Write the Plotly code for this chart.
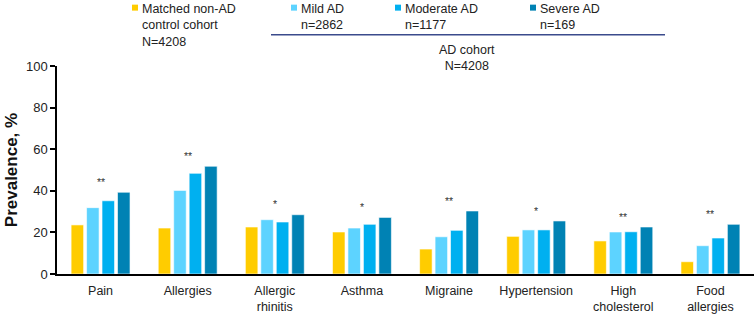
import plotly.graph_objects as go

categories = ["Pain", "Allergies", "Allergic<br>rhinitis", "Asthma", "Migraine",
              "Hypertension", "High<br>cholesterol", "Food<br>allergies"]
control = [23.6, 22.1, 22.6, 20.2, 12.0, 18.1, 15.9, 5.9]
mild = [31.9, 40.2, 26.1, 22.1, 17.9, 21.2, 20.2, 13.6]
moderate = [35.2, 48.4, 25.0, 23.9, 21.0, 21.2, 20.3, 17.3]
severe = [39.3, 51.8, 28.5, 27.2, 30.3, 25.5, 22.6, 23.9]
significance = ["**", "**", "*", "*", "**", "*", "**", "**"]

series_names = ["Matched non-AD control cohort", "Mild AD", "Moderate AD", "Severe AD"]
colors = ["#FFCC00", "#5DD3FF", "#00B0F0", "#0082B4"]

FONT = "Liberation Sans, Arial, sans-serif"

fig = go.Figure()
for name, vals, col in zip(series_names, [control, mild, moderate, severe], colors):
    fig.add_trace(go.Bar(x=categories, y=vals, name=name, marker_color=col,
                         marker_line=dict(color="white", width=0.6), showlegend=False,
                         hoverinfo="skip"))

# significance markers above each group
for cat, sig, a, b, c, d in zip(categories, significance, control, mild, moderate, severe):
    fig.add_annotation(x=cat, y=max(a, b, c, d) + 5, text=sig, showarrow=False,
                       xref="x", yref="y", font=dict(size=10.5, color="#333333", family=FONT),
                       yanchor="middle")

W, H = 755, 315
L, R, T, B = 57, 1, 65.5, 41
PW, PH = W - L - R, H - T - B

def px(x):
    return (x - L) / PW

def py(y):
    return (H - B - y) / PH

# custom legend
legend_items = [
    (132, ["Matched non-AD", "control cohort", "N=4208"], colors[0]),
    (291, ["Mild AD", "n=2862"], colors[1]),
    (395, ["Moderate AD", "n=1177"], colors[2]),
    (530, ["Severe AD", "n=169"], colors[3]),
]
for x0, lines, col in legend_items:
    fig.add_shape(type="rect", xref="paper", yref="paper",
                  x0=px(x0), x1=px(x0 + 6), y0=py(10), y1=py(4),
                  fillcolor=col, line=dict(width=0))
    fig.add_annotation(xref="paper", yref="paper", x=px(x0 + 8), y=py(-1),
                       xanchor="left", yanchor="top", align="left", showarrow=False,
                       text="<br>".join(lines),
                       font=dict(size=12.5, color="#222222", family=FONT))

fig.add_shape(type="line", xref="paper", yref="paper",
              x0=px(271), x1=px(665), y0=py(34.3), y1=py(34.3),
              line=dict(color="#3B4B8C", width=1.5))
fig.add_annotation(xref="paper", yref="paper", x=px(467), y=py(40),
                   xanchor="center", yanchor="top", align="center", showarrow=False,
                   text="AD cohort<br>N=4208",
                   font=dict(size=12.5, color="#222222", family=FONT))

fig.update_layout(
    width=W, height=H,
    margin=dict(l=L, r=R, t=T, b=B, autoexpand=False),
    paper_bgcolor="white", plot_bgcolor="white",
    barmode="group", bargap=0.29, bargroupgap=0.19,
    font=dict(family=FONT, color="#222222"),
    hovermode=False,
)
fig.update_xaxes(showline=True, linecolor="black", linewidth=2, ticks="",
                 tickfont=dict(size=12.5, color="#222222"), showgrid=False,
                 range=[-0.5, 7.5], ticklabelstandoff=4)
fig.update_yaxes(range=[0, 100], tickvals=[0, 20, 40, 60, 80, 100], showgrid=False,
                 showline=True, linecolor="black", linewidth=1.5, ticks="outside",
                 ticklen=5, tickcolor="black", tickwidth=1.5,
                 tickfont=dict(size=13, color="#222222"), zeroline=False,
                 title=dict(text="<b>Prevalence, %</b>", font=dict(size=17, color="#111111"),
                            standoff=4))

fig.write_html("out.html", config={"displayModeBar": False},
               post_script="document.body.style.margin='0';")
